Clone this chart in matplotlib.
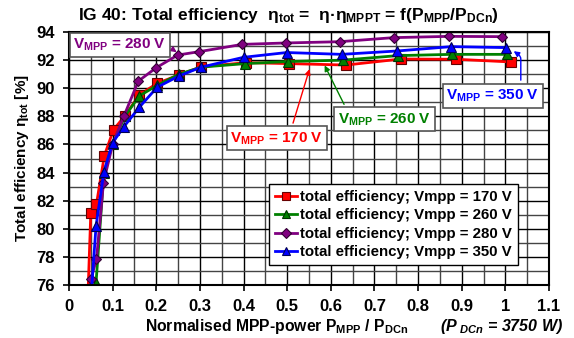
import matplotlib
matplotlib.use("Agg")
import matplotlib.pyplot as plt
from matplotlib.ticker import MultipleLocator

plt.rcParams["font.family"] = ["Liberation Sans", "DejaVu Sans"]
plt.rcParams["font.weight"] = "bold"
plt.rcParams["mathtext.fontset"] = "custom"
plt.rcParams["mathtext.rm"] = "Liberation Sans:bold"
plt.rcParams["mathtext.bf"] = "Liberation Sans:bold"
plt.rcParams["mathtext.it"] = "Liberation Sans:bold:italic"

# total efficiency [%] vs normalised MPP power
p170 = [0.042, 0.050, 0.063, 0.081, 0.102, 0.128, 0.161, 0.202, 0.252, 0.303, 0.406, 0.505, 0.635, 0.761, 0.888, 1.012]
e170 = [74.0, 81.15, 81.77, 85.2, 87.05, 88.03, 89.52, 90.35, 90.94, 91.53, 91.82, 91.75, 91.65, 92.08, 92.06, 91.87]

p260 = [0.058, 0.062, 0.080, 0.100, 0.128, 0.161, 0.202, 0.252, 0.303, 0.403, 0.502, 0.629, 0.753, 0.878, 1.004]
e260 = [74.0, 76.17, 84.0, 86.03, 88.0, 89.45, 90.2, 91.0, 91.5, 91.75, 91.9, 92.0, 92.32, 92.41, 92.41]

p280 = [0.046, 0.050, 0.063, 0.079, 0.100, 0.126, 0.159, 0.200, 0.249, 0.298, 0.397, 0.497, 0.620, 0.744, 0.870, 0.992]
e280 = [74.5, 76.41, 77.83, 83.28, 86.0, 88.03, 90.51, 91.46, 92.36, 92.6, 93.12, 93.22, 93.31, 93.6, 93.69, 93.67]

p350 = [0.049, 0.062, 0.080, 0.100, 0.126, 0.161, 0.202, 0.252, 0.303, 0.400, 0.499, 0.625, 0.752, 0.876, 1.002]
e350 = [74.5, 80.2, 84.06, 86.13, 87.27, 88.64, 90.07, 90.87, 91.5, 92.2, 92.54, 92.41, 92.65, 92.96, 92.89]

xticklabels = ["0", "0.1", "0.2", "0.3", "0.4", "0.5", "0.6", "0.7", "0.8", "0.9", "1", "1.1"]

fig = plt.figure(figsize=(5.74, 3.38), dpi=100)
ax = fig.add_axes([0.1202, 0.1568, 0.8362, 0.7485])

ax.plot(p170, e170, color="#ff0000", lw=2, marker="s", ms=7, mfc="#ff0000", mec="#660000", mew=0.8,
        label="total efficiency; Vmpp = 170 V")
ax.plot(p260, e260, color="#008000", lw=2, marker="^", ms=7, mfc="#008000", mec="#003300", mew=0.8,
        label="total efficiency; Vmpp = 260 V")
ax.plot(p280, e280, color="#800080", lw=2, marker="D", ms=5.5, mfc="#800080", mec="#330033", mew=0.8,
        label="total efficiency; Vmpp = 280 V")
ax.plot(p350, e350, color="#0000ff", lw=2, marker="^", ms=7, mfc="#0000ff", mec="#000055", mew=0.8,
        label="total efficiency; Vmpp = 350 V")

ax.set_xlim(0, 1.1)
ax.set_ylim(76, 94)
ax.set_xticks([i / 10 for i in range(12)])
ax.set_xticklabels(xticklabels)
ax.xaxis.set_minor_locator(MultipleLocator(0.05))
ax.yaxis.set_major_locator(MultipleLocator(2))
ax.yaxis.set_minor_locator(MultipleLocator(1))
ax.grid(which="major", color="black", lw=1)
ax.grid(which="minor", color="#444444", lw=1)
ax.set_axisbelow(True)
for s in ax.spines.values():
    s.set_linewidth(1.5)
ax.tick_params(which="major", direction="out", length=4, width=1.2, labelsize=12, pad=6)
ax.tick_params(which="minor", direction="out", length=0)

fig.text(0.502, 0.955,
         r"IG 40: Total efficiency  η$_{\mathrm{tot}}$ =  η·η$_{\mathrm{MPPT}}$ = f(P$_{\mathrm{MPP}}$/P$_{\mathrm{DCn}}$)",
         fontsize=12.5, fontweight="bold", ha="center", va="center")
ax.set_ylabel(r"Total efficiency η$_{\mathrm{tot}}$ [%]", fontsize=11, fontweight="bold", labelpad=4)
fig.text(0.481, 0.035, r"Normalised MPP-power P$_{\mathrm{MPP}}$ / P$_{\mathrm{DCn}}$",
         fontsize=11.3, fontweight="bold", ha="center", va="center")
fig.text(0.873, 0.035, r"($P_{\ DCn}$ = 3750 W)", fontsize=11.5, fontweight="bold", style="italic",
         ha="center", va="center")

leg = ax.legend(loc="center", bbox_to_anchor=(0.676, 0.239), fontsize=10.8, frameon=True, fancybox=False,
                edgecolor="black", framealpha=1, handlelength=1.5, handletextpad=0.2, borderpad=0.4,
                labelspacing=0.3, markerscale=0.85)
leg.get_frame().set_linewidth(1)

box = dict(boxstyle="square,pad=0.25", fc="white", ec="#555555", lw=1.2)
ax.annotate(r"V$_{\mathrm{MPP}}$ = 280 V", xy=(0.252, 92.45), xytext=(0.01, 93.08), color="#800080",
            fontsize=11, fontweight="bold", bbox=box, va="center",
            arrowprops=dict(arrowstyle="-|>", color="#800080", lw=1, mutation_scale=8, relpos=(1.0, 0.5)))
ax.annotate(r"V$_{\mathrm{MPP}}$ = 170 V", xy=(0.553, 91.55), xytext=(0.37, 86.43), color="#ff0000",
            fontsize=11, fontweight="bold", bbox=box, va="center",
            arrowprops=dict(arrowstyle="-|>", color="#ff0000", lw=1, mutation_scale=8, relpos=(0.65, 1.0)))
ax.annotate(r"V$_{\mathrm{MPP}}$ = 260 V", xy=(0.583, 91.8), xytext=(0.617, 87.78), color="#008000",
            fontsize=11, fontweight="bold", bbox=box, va="center",
            arrowprops=dict(arrowstyle="-|>", color="#008000", lw=1, mutation_scale=8, relpos=(0.1, 1.0)))
ax.annotate(r"V$_{\mathrm{MPP}}$ = 350 V", xy=(1.014, 92.75), xytext=(0.865, 89.48), color="#0000ff",
            fontsize=11, fontweight="bold", bbox=box, va="center",
            arrowprops=dict(arrowstyle="-|>", color="#0000ff", lw=1, mutation_scale=8,
                            connectionstyle="angle,angleA=90,angleB=-35,rad=3", relpos=(0.8, 1.0)))

fig.savefig("out.png", dpi=100)
